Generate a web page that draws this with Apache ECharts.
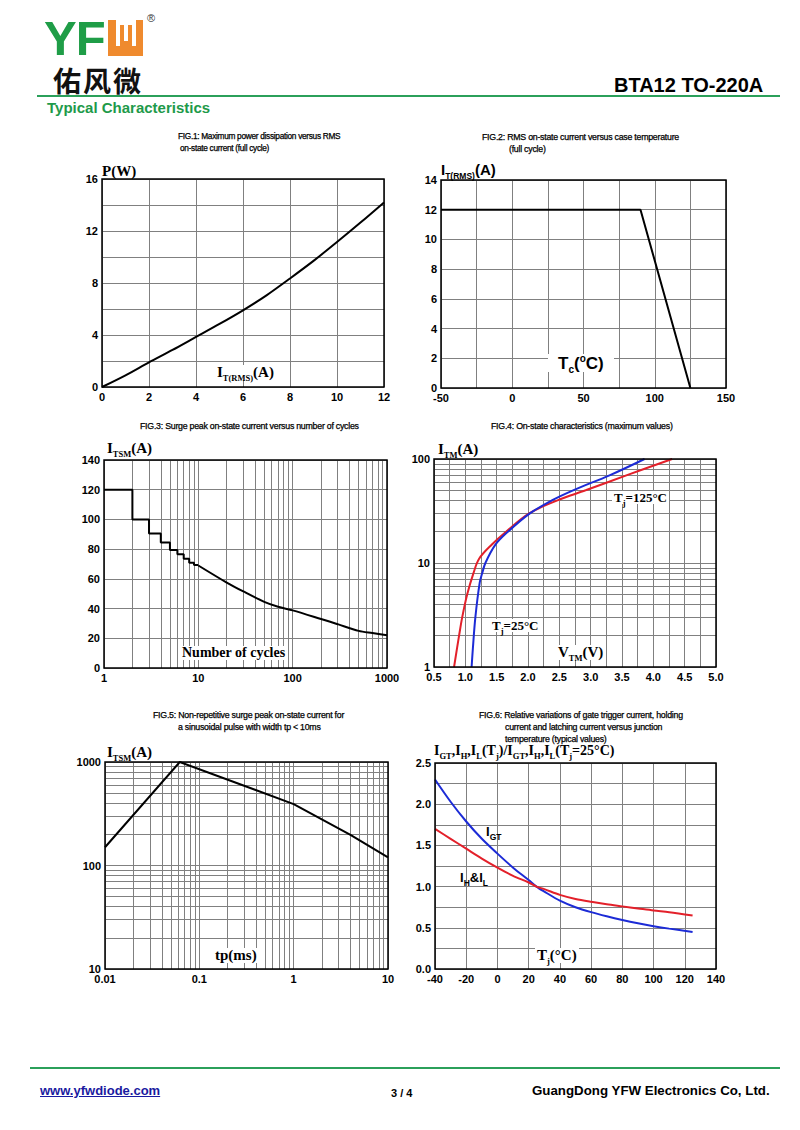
<!DOCTYPE html>
<html>
<head>
<meta charset="utf-8">
<script src="https://cdn.jsdelivr.net/npm/echarts@6/dist/echarts.min.js"></script>
<style>
  html,body{margin:0;padding:0;background:#fff;}
  #page{position:relative;width:800px;height:1130px;background:#fff;overflow:hidden;font-family:'Liberation Sans',Arial,sans-serif;}
  #chart{position:absolute;left:0;top:0;width:800px;height:1130px;}
  .t{position:absolute;white-space:nowrap;z-index:10;color:#000;line-height:1;}
  .ft{font-family:'Liberation Sans',Arial,sans-serif;font-size:8.8px;letter-spacing:-0.25px;color:#000;line-height:12px;-webkit-text-stroke:0.25px #000;}
  .tm{font-family:'Liberation Serif','Times New Roman',serif;font-weight:bold;font-size:15px;}
  .ar{font-family:'Liberation Sans',Arial,sans-serif;font-weight:bold;font-size:15px;}
  .sub{font-size:8.5px;position:relative;top:4px;}
  .bg{background:#fff;padding:0 2px;}
  .ol{position:absolute;z-index:10;}
</style>
</head>
<body>
<div id="page">
  <div id="chart"></div>

  <!-- header -->
  <div class="t" style="left:44px;top:17.5px;line-height:40px;font:bold 49px/40px 'Liberation Sans',Arial;color:#1f9d47;letter-spacing:-1px;">YF</div>
  <div class="ol" style="left:108px;top:20px;width:35px;height:36px;background:#ef8a2e;"></div>
  <div class="ol" style="left:116px;top:20px;width:20px;height:26px;background:#fff;"></div>
  <div class="ol" style="left:120px;top:25px;width:12px;height:21px;background:#ef8a2e;"></div>
  <div class="ol" style="left:124px;top:25px;width:4px;height:16px;background:#fff;"></div>
  <div class="t" style="left:147px;top:12px;font:11px 'Liberation Sans',Arial;color:#333;">®</div>
  <div class="t" style="left:53px;top:60px;font:bold 28px 'Noto Sans CJK SC';letter-spacing:2px;color:#111;">佑风微</div>
  <div class="t" style="left:614px;top:74px;font:bold 20px 'Liberation Sans',Arial;">BTA12 TO-220A</div>
  <div class="ol" style="left:37px;top:95px;width:743px;height:2px;background:#2ba05a;"></div>
  <div class="t" style="left:47px;top:99px;font:bold 15px 'Liberation Sans',Arial;color:#1e9a4a;">Typical Characteristics</div>

  <!-- figure titles -->
  <div class="t ft" style="left:178px;top:130px;font-size:8.3px;letter-spacing:-0.3px;">FIG.1: Maximum power dissipation versus RMS<br><span style="padding-left:2px">on-state current (full cycle)</span></div>
  <div class="t ft" style="left:482px;top:131px;">FIG.2: RMS on-state current versus case temperature<br><span style="padding-left:27px">(full cycle)</span></div>
  <div class="t ft" style="left:140px;top:420px;">FIG.3: Surge peak on-state current versus number of cycles</div>
  <div class="t ft" style="left:491px;top:420px;">FIG.4: On-state characteristics (maximum values)</div>
  <div class="t ft" style="left:153px;top:709px;">FIG.5: Non-repetitive surge peak on-state current for<br><span style="padding-left:25px">a sinusoidal pulse with width tp &lt; 10ms</span></div>
  <div class="t ft" style="left:479px;top:709px;">FIG.6: Relative variations of gate trigger current, holding<br><span style="padding-left:26px">current and latching current versus junction</span><br><span style="padding-left:26px">temperature (typical values)</span></div>

  <!-- axis names -->
  <div class="t tm" style="left:102px;top:164px;">P(W)</div>
  <div class="t tm bg" style="left:215px;top:365px;">I<span class="sub">T(RMS)</span>(A)</div>

  <div class="t ar" style="left:441px;top:162px;">I<span class="sub">T(RMS)</span>(A)</div>
  <div class="t ar bg" style="left:548px;top:354px;font-size:17px;padding:0 10px;">T<span class="sub" style="font-size:10px">c</span>(<sup style="font-size:10px">o</sup>C)</div>

  <div class="t tm" style="left:107px;top:441px;">I<span class="sub">TSM</span>(A)</div>
  <div class="t tm bg" style="left:180px;top:646px;font-size:14px;">Number of cycles</div>

  <div class="t tm" style="left:438px;top:442px;">I<span class="sub">TM</span>(A)</div>
  <div class="t tm bg" style="left:556px;top:645px;">V<span class="sub">TM</span>(V)</div>
  <div class="t tm bg" style="left:612px;top:491px;font-size:13px;">T<span class="sub">j</span>=125°C</div>
  <div class="t tm bg" style="left:490px;top:619px;font-size:13px;">T<span class="sub">j</span>=25°C</div>

  <div class="t tm" style="left:107px;top:745px;">I<span class="sub">TSM</span>(A)</div>
  <div class="t tm bg" style="left:213px;top:948px;">tp(ms)</div>

  <div class="t tm" style="left:434px;top:744px;font-size:14px;">I<span class="sub">GT</span>,I<span class="sub">H</span>,I<span class="sub">L</span>(T<span class="sub">j</span>)/I<span class="sub">GT</span>,I<span class="sub">H</span>,I<span class="sub">L</span>(T<span class="sub">j</span>=25°C)</div>
  <div class="t ar" style="left:486px;top:825px;font-size:13px;">I<span class="sub">GT</span></div>
  <div class="t ar" style="left:460px;top:871px;font-size:13px;">I<span class="sub">H</span>&amp;I<span class="sub">L</span></div>
  <div class="t tm bg" style="left:535px;top:948px;">T<span class="sub">j</span>(°C)</div>

  <!-- footer -->
  <div class="ol" style="left:30px;top:1067px;width:750px;height:2px;background:#2ba05a;"></div>
  <div class="t" style="left:40px;top:1083px;font:bold 13px 'Liberation Sans',Arial;color:#1a1aa0;text-decoration:underline;">www.yfwdiode.com</div>
  <div class="t" style="left:391px;top:1087px;font:bold 11px 'Liberation Sans',Arial;">3 / 4</div>
  <div class="t" style="left:532px;top:1083px;font:bold 13.3px 'Liberation Sans',Arial;">GuangDong YFW Electronics Co, Ltd.</div>
</div>

<script>
// ---------- DATA ----------
// FIG.1
const fig1Current = [0, 1, 2, 3, 4, 5, 6, 7, 8, 9, 10, 11, 12];
const fig1Power   = [0, 0.9, 1.9, 2.85, 3.85, 4.85, 5.9, 7.05, 8.35, 9.7, 11.15, 12.65, 14.2];
// FIG.2
const fig2Temp    = [-50, 90, 125];
const fig2Current = [12, 12, 0];
// FIG.3
const fig3StepCycles = [1, 2, 3, 4, 5, 6, 7, 8, 9, 10];
const fig3StepValues = [120, 100, 90.5, 84.5, 79.5, 76.5, 73.5, 70.8, 69.4, 69];
const fig3CurveCycles = [10, 20, 30, 50, 70, 100, 200, 300, 500, 700, 1000];
const fig3CurveValues = [69, 57.5, 51.5, 44.5, 41.2, 38.8, 33, 29.5, 25, 23.5, 22];
// FIG.4
const fig4I25  = [1, 1.5, 3, 6.5, 8, 10, 15, 20, 30, 40, 50, 70, 100];
const fig4V25  = [1.1, 1.12, 1.16, 1.23, 1.27, 1.32, 1.48, 1.68, 2.03, 2.38, 2.72, 3.31, 3.86];
const fig4I125 = [1, 2, 3, 5, 8, 11, 15, 20, 30, 40, 50, 70, 100];
const fig4V125 = [0.82, 0.9, 0.95, 1.03, 1.13, 1.22, 1.42, 1.65, 2.02, 2.47, 2.92, 3.58, 4.3];
// FIG.5
const fig5Tp   = [0.01, 0.062, 1, 4, 10];
const fig5Itsm = [150, 1000, 392, 198, 120];
// FIG.6
const fig6Temp = [-40, -30, -20, -10, 0, 10, 20, 25, 30, 40, 50, 60, 70, 80, 90, 100, 110, 125];
const fig6IGT  = [2.30, 2.03, 1.79, 1.58, 1.40, 1.23, 1.08, 1.0, 0.94, 0.83, 0.75, 0.69, 0.64, 0.595, 0.555, 0.52, 0.49, 0.45];
const fig6IHL  = [1.70, 1.58, 1.46, 1.34, 1.23, 1.13, 1.05, 1.0, 0.97, 0.90, 0.85, 0.815, 0.785, 0.76, 0.735, 0.71, 0.69, 0.65];
// minor log gridline multiples
const logMinor = [2, 3, 4, 5, 6, 7, 8, 9];

// ---------- LAYOUT ----------
const grids = [
  {left: 102, top: 179, width: 282, height: 208},
  {left: 441, top: 180, width: 285, height: 208},
  {left: 104, top: 460, width: 283, height: 208},
  {left: 434, top: 459, width: 282, height: 208},
  {left: 105, top: 762, width: 283, height: 207},
  {left: 435, top: 763, width: 281, height: 206}
];
const GRID_C = '#808080';
const lblStyle = {color: '#000', fontWeight: 'bold', fontSize: 11, fontFamily: 'Liberation Sans, Arial'};
const split = {show: true, lineStyle: {color: GRID_C, width: 1}};

function pairs(xs, ys) { return xs.map((x, i) => [x, ys[i]]); }
function decadesMinor(decades) {
  const out = [];
  decades.forEach(d => logMinor.forEach(m => out.push(+(m * d).toPrecision(6))));
  return out;
}
function fmtLog(v) { return String(+(+v).toPrecision(6)); }
function every(step, digits) {
  return function (v) {
    const r = v / step;
    return Math.abs(r - Math.round(r)) < 1e-6 ? (digits != null ? v.toFixed(digits) : String(v)) : '';
  };
}
function valAxis(gi, min, max, interval, fmt, extra) {
  return Object.assign({
    type: 'value', gridIndex: gi, min: min, max: max, interval: interval,
    axisLine: {show: false}, axisTick: {show: false}, splitLine: split,
    axisLabel: Object.assign({formatter: fmt, margin: 4, showMinLabel: true, showMaxLabel: true}, lblStyle)
  }, extra || {});
}
function logAxis(gi, min, max, extra) {
  return Object.assign({
    type: 'log', logBase: 10, gridIndex: gi, min: min, max: max,
    axisLine: {show: false}, axisTick: {show: false}, splitLine: split, minorSplitLine: {show: false},
    axisLabel: Object.assign({formatter: fmtLog, margin: 4, showMinLabel: true, showMaxLabel: true}, lblStyle)
  }, extra || {});
}
function minorLines(xVals, yVals) {
  const data = [];
  (xVals || []).forEach(v => data.push({xAxis: v}));
  (yVals || []).forEach(v => data.push({yAxis: v}));
  return {silent: true, symbol: 'none', label: {show: false}, animation: false,
          lineStyle: {color: GRID_C, width: 1, type: 'solid'}, emphasis: {disabled: true}, data: data};
}
function line(gi, data, color, smooth, extra) {
  return Object.assign({
    type: 'line', xAxisIndex: gi, yAxisIndex: gi, data: data, showSymbol: false, symbol: 'none',
    smooth: smooth, lineStyle: {color: color, width: 2}, silent: true, z: 5
  }, extra || {});
}

const BLACK = '#000', BLUE = '#1c2bd6', RED = '#e3202a';

const xAxes = [
  valAxis(0, 0, 12, 2, every(2)),
  valAxis(1, -50, 150, 25, every(50)),
  logAxis(2, 1, 1000),
  valAxis(3, 0.5, 5.0, 0.25, every(0.5, 1)),
  logAxis(4, 0.01, 10),
  valAxis(5, -40, 140, 20, every(20))
];
const yAxes = [
  valAxis(0, 0, 16, 2, every(4)),
  valAxis(1, 0, 14, 2, every(2)),
  valAxis(2, 0, 140, 20, every(20)),
  logAxis(3, 1, 100),
  logAxis(4, 10, 1000),
  valAxis(5, 0, 2.5, 0.25, every(0.5, 1))
];

const series = [
  line(0, pairs(fig1Current, fig1Power), BLACK, 0.3),
  line(1, pairs(fig2Temp, fig2Current), BLACK, false),
  line(2, pairs(fig3StepCycles, fig3StepValues), BLACK, false, {step: 'end', markLine: minorLines(decadesMinor([1, 10, 100]), null)}),
  line(2, pairs(fig3CurveCycles, fig3CurveValues), BLACK, 0.3),
  line(3, pairs(fig4V125, fig4I125), RED, 0.35, {markLine: minorLines(null, decadesMinor([1, 10]))}),
  line(3, pairs(fig4V25, fig4I25), BLUE, 0.35),
  line(4, pairs(fig5Tp, fig5Itsm), BLACK, false, {markLine: minorLines(decadesMinor([0.01, 0.1, 1]), decadesMinor([10, 100]))}),
  line(5, pairs(fig6Temp, fig6IGT), BLUE, 0.3),
  line(5, pairs(fig6Temp, fig6IHL), RED, 0.3)
];

const chart = echarts.init(document.getElementById('chart'), null, {renderer: 'svg', width: 800, height: 1130});
chart.setOption({
  animation: false,
  backgroundColor: '#fff',
  grid: grids.map(g => Object.assign({show: true, backgroundColor: '#fff', borderWidth: 0}, g)),
  xAxis: xAxes,
  yAxis: yAxes,
  series: series,
  graphic: grids.map(g => ({
    type: 'rect', silent: true, z: 100,
    shape: {x: g.left, y: g.top, width: g.width, height: g.height},
    style: {fill: 'none', stroke: '#000', lineWidth: 1.5}
  }))
});
</script>
</body>
</html>
